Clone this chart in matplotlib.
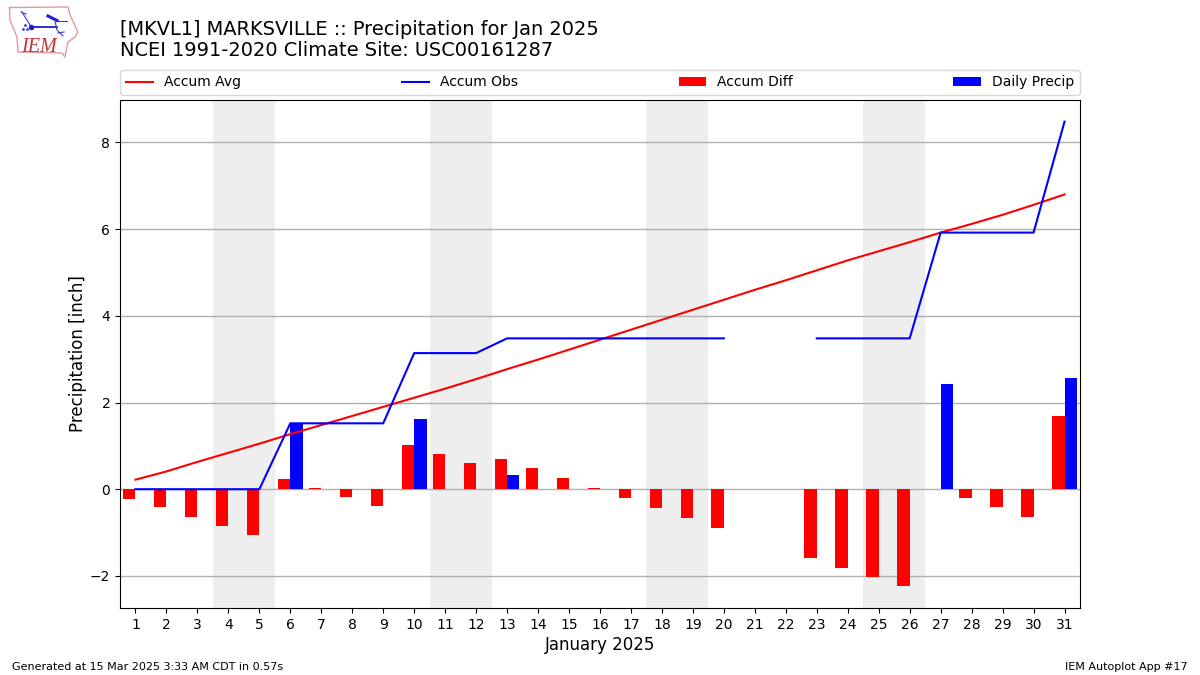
import numpy as np
import matplotlib
matplotlib.use("Agg")
import matplotlib.pyplot as plt

nan = np.nan
days = list(range(1, 32))
accum_avg = [0.22, 0.41, 0.63, 0.84, 1.05, 1.27, 1.48, 1.69, 1.90, 2.11, 2.32, 2.54, 2.77, 2.99, 3.22, 3.45,
             3.68, 3.91, 4.14, 4.37, 4.60, 4.82, 5.05, 5.28, 5.49, 5.70, 5.92, 6.12, 6.33, 6.56, 6.80]
accum_obs = [0, 0, 0, 0, 0, 1.52, 1.52, 1.52, 1.52, 3.14, 3.14, 3.14, 3.48, 3.48, 3.48, 3.48,
             3.48, 3.48, 3.48, 3.48, nan, nan, 3.48, 3.48, 3.48, 3.48, 5.92, 5.92, 5.92, 5.92, 8.48]
accum_diff = [-0.22, -0.41, -0.64, -0.85, -1.05, 0.23, 0.03, -0.18, -0.39, 1.02, 0.81, 0.60, 0.69, 0.48, 0.25, 0.03,
              -0.20, -0.43, -0.66, -0.89, nan, nan, -1.59, -1.82, -2.03, -2.24, 0.0, -0.20, -0.41, -0.64, 1.68]
daily_precip = [0, 0, 0, 0, 0, 1.52, 0, 0, 0, 1.62, 0, 0, 0.33, 0, 0, 0,
                0, 0, 0, 0, nan, nan, 0, 0, 0, 0, 2.42, 0, 0, 0, 2.56]
weekend_starts = [4, 11, 18, 25]

fig = plt.figure(figsize=(12, 6.75), dpi=100)
ax = fig.add_axes([0.1, 0.0993, 0.8, 0.7526])

for d in weekend_starts:
    ax.axvspan(d - 0.5, d + 1.5, color="#eeeeee", lw=0, zorder=0)
ax.grid(True, axis="y", color="#b0b0b0", lw=1.0, zorder=1)
ax.set_axisbelow(True)

ax.bar(days, accum_diff, width=-0.4, align="edge", color="r", label="Accum Diff", zorder=2)
ax.bar(days, daily_precip, width=0.4, align="edge", color="b", label="Daily Precip", zorder=2)
ax.plot(days, accum_avg, color="r", lw=1.5, label="Accum Avg", zorder=3)
ax.plot(days, accum_obs, color="b", lw=1.5, label="Accum Obs", zorder=3)

ax.set_xlim(0.5, 31.5)
ax.set_ylim(-2.74, 8.98)
ax.set_xticks(days)
ax.set_yticks([-2, 0, 2, 4, 6, 8])
ax.tick_params(labelsize=10)
ax.set_xlabel("January 2025", fontsize=12, labelpad=3)
ax.set_ylabel("Precipitation [inch]", fontsize=12, labelpad=2)

h, l = ax.get_legend_handles_labels()
order = [l.index(n) for n in ["Accum Avg", "Accum Obs", "Accum Diff", "Daily Precip"]]
ax.legend([h[i] for i in order], [l[i] for i in order], ncol=4, mode="expand", loc="lower left",
          bbox_to_anchor=(0, 1.0098, 1, 0.05), borderaxespad=0, fontsize=10)

fig.text(0.1, 1 - 60 / 675, "[MKVL1] MARKSVILLE :: Precipitation for Jan 2025\nNCEI 1991-2020 Climate Site: USC00161287",
         fontsize=13.95, ha="left", va="bottom", linespacing=1.13)
fig.text(12 / 1200, 1 - 672 / 675, "Generated at 15 Mar 2025 3:33 AM CDT in 0.57s", fontsize=8, ha="left", va="bottom")
fig.text(1188 / 1200, 1 - 672 / 675, "IEM Autoplot App #17", fontsize=8, ha="right", va="bottom")

# IEM logo, drawn in figure pixel coordinates
logo = fig.add_axes([0, 0, 1, 1], zorder=5)
logo.set_xlim(0, 1200)
logo.set_ylim(675, 0)
logo.axis("off")
logo.patch.set_alpha(0)
outline_x = [9.5, 68, 70, 78, 75, 68, 65, 62, 18, 17, 10, 9.5]
outline_y = [7.5, 7, 15, 32, 37, 42, 57, 53, 52, 37, 20, 7.5]
logo.plot(outline_x, outline_y, color="#e39a9a", lw=1.0)
logo.plot([31, 57], [27, 27], color="#1c1cd0", lw=1.3)
logo.plot([31], [27], "o", color="#1c1cd0", ms=4, mec="none")
logo.plot([22, 30], [12, 25], color="#3a3ad8", lw=0.8)
logo.plot([21, 26], [12, 14], color="#3a3ad8", lw=0.8)
logo.plot([48, 57], [16, 20.5], color="#1c1cd0", lw=2.2)
logo.plot([57, 67], [21, 21], color="#3a3ad8", lw=0.8)
logo.plot([55, 57, 63], [21, 30, 36], color="#3a3ad8", lw=0.8)
logo.plot([58, 64], [33, 32], color="#3a3ad8", lw=0.8)
logo.plot([23, 25, 27], [29, 25, 29], ".", color="#3a3ad8", ms=2)
logo.text(21, 52.5, "IEM", family="Liberation Serif", style="italic", color="#c8303a", fontsize=14.5,
          ha="left", va="baseline")

fig.savefig("out.png", dpi=100)
